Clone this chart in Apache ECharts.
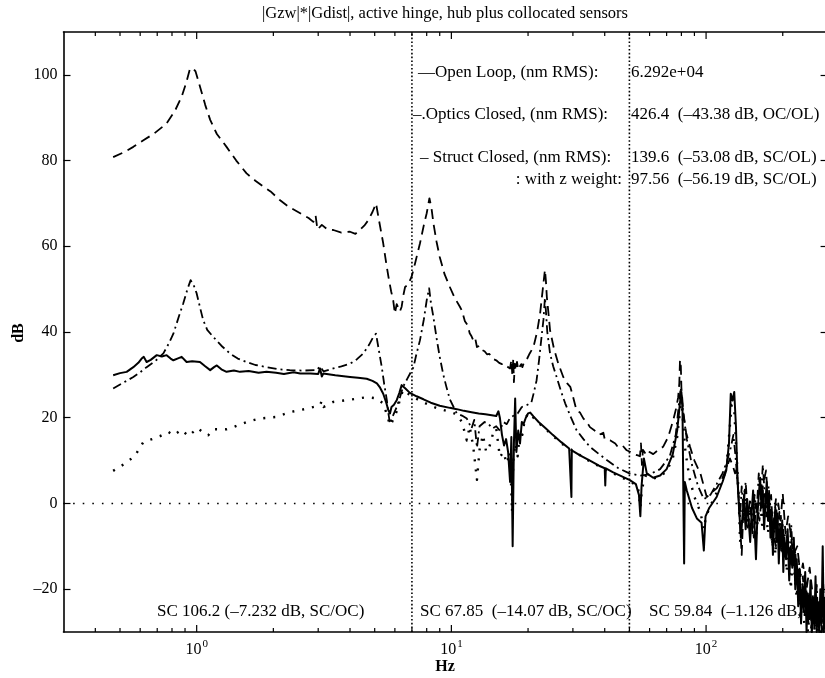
<!DOCTYPE html>
<html><head><meta charset="utf-8">
<script src="https://cdn.jsdelivr.net/npm/echarts@6/dist/echarts.min.js"></script>
<style>html,body{margin:0;padding:0;background:#fff}#c{width:825px;height:678px}</style>
</head><body><div id="c"></div>
<script>
// ---- data (Hz, dB) ----
const openLoop = [[0.47,80.8],[0.52,82.0],[0.564,83.2],[0.62,84.8],[0.68,86.3],[0.76,88.6],[0.82,91.5],[0.873,94.9],[0.91,98.2],[0.94,101.3],[0.965,101.6],[0.99,100.8],[1.03,97.3],[1.08,93.0],[1.13,89.5],[1.2,86.2],[1.31,83.2],[1.43,80.0],[1.57,77.0],[1.7,75.3],[1.83,73.9],[1.95,72.8],[2.12,70.8],[2.3,69.2],[2.55,67.7],[2.75,66.6],[2.87,65.7],[2.93,67.2],[2.98,63.9],[3.1,65.0],[3.25,64.0],[3.44,63.8],[3.7,63.2],[4.0,63.4],[4.2,62.9],[4.37,63.8],[4.55,64.8],[4.72,66.1],[4.9,68.0],[5.06,70.0],[5.2,66.0],[5.4,60.7],[5.55,56.0],[5.66,52.9],[5.8,49.5],[5.91,47.4],[6.0,44.3],[6.1,46.5],[6.19,46.7],[6.28,44.8],[6.38,45.9],[6.48,48.6],[6.58,50.5],[6.75,51.0],[6.98,52.9],[7.2,56.0],[7.53,60.7],[7.8,65.0],[8.0,67.7],[8.2,71.2],[8.35,69.0],[8.5,65.4],[8.75,61.0],[9.0,57.5],[9.4,53.5],[9.86,50.5],[10.3,48.0],[10.8,45.9],[11.0,45.0],[11.3,42.5],[11.6,41.5],[11.8,39.7],[12.0,39.0],[12.2,38.0],[12.4,38.6],[12.6,36.5],[12.9,36.8],[13.2,35.8],[13.5,35.5],[13.8,34.8],[14.1,34.9],[14.4,34.0],[14.7,33.6],[15.0,33.4],[15.4,32.8],[15.8,32.5],[16.2,32.6],[16.5,32.0],[16.8,31.6],[17.0,31.5],[17.2,33.5],[17.35,30.0],[17.5,33.8],[17.6,28.3],[17.75,32.6],[17.9,31.0],[18.1,33.0],[18.3,31.2],[18.6,32.0],[18.8,32.5],[19.0,31.8],[19.3,33.0],[19.7,33.4],[20.3,35.0],[21.0,36.5],[21.7,40.0],[22.3,44.3],[22.8,49.5],[23.3,54.5],[23.5,52.0],[23.7,48.2],[24.0,45.0],[24.4,40.4],[25.3,36.0],[26.3,32.6],[27.5,29.5],[28.5,28.0],[29.3,27.2],[30.0,25.0],[31.0,21.7],[32.0,21.2],[33.0,19.8],[34.0,19.0],[35.0,17.8],[36.5,17.0],[38.0,16.0],[39.5,16.5],[40.0,15.0],[42.1,14.7],[44.0,14.0],[45.0,13.2],[47.0,13.5],[48.8,12.4],[50.5,12.0],[52.0,11.5],[54.0,11.2],[55.0,11.0],[55.5,14.0],[56.0,9.0],[56.5,12.5],[58.5,11.2],[60.0,12.0],[62.0,11.5],[65.0,12.5],[67.8,13.2],[71.0,15.5],[74.3,19.4],[76.5,22.5],[77.7,24.8],[78.5,28.0],[79.0,33.5],[79.6,32.0],[80.0,27.0],[80.5,25.0],[81.5,21.0],[83.5,16.5],[86.5,13.2],[90.0,10.0],[95.1,6.9],[100.6,1.5],[105.0,2.5],[110.0,3.5],[115.0,5.5],[120.0,8.0],[124.0,10.5],[127.0,9.0],[130.0,7.0],[132.0,8.0],[134.0,2.0],[136.0,-5.0],[138.0,-12.0],[140.0,-2.0],[145.0,-6.3],[150.0,-1.0],[154.0,-8.0],[157.0,0.0],[162.0,-4.0],[167.0,4.0],[172.0,7.7],[176.0,-2.0],[180.0,2.0],[183.0,-6.3],[188.0,-10.0],[192.0,0.0],[196.0,-4.0],[200.0,2.3],[205.0,-7.0],[210.0,-3.0],[214.0,-6.3],[220.0,-12.0],[228.0,-10.0],[235.0,-17.0],[240.0,-14.0],[248.0,-20.0],[255.0,-15.0],[263.0,-22.0],[270.0,-26.0],[280.0,-28.0],[290.0,-30.0]];

const opticsClosed = [[0.47,26.8],[0.52,28.3],[0.564,29.5],[0.6,30.6],[0.636,31.8],[0.69,33.3],[0.74,35.0],[0.78,37.5],[0.81,39.6],[0.85,43.5],[0.886,46.7],[0.92,50.0],[0.947,52.1],[0.975,50.8],[1.0,49.0],[1.03,45.8],[1.06,42.8],[1.1,40.5],[1.16,38.9],[1.25,36.8],[1.35,35.0],[1.45,33.8],[1.57,33.0],[1.7,32.3],[1.88,31.8],[2.1,31.3],[2.32,31.1],[2.6,31.0],[2.96,31.1],[3.05,32.0],[3.15,30.8],[3.44,31.5],[3.7,32.0],[4.0,32.6],[4.25,33.6],[4.51,35.0],[4.75,37.0],[4.94,38.9],[5.06,39.6],[5.2,35.5],[5.33,31.8],[5.45,27.8],[5.58,24.1],[5.66,21.0],[5.74,18.6],[5.9,20.5],[6.1,22.5],[6.3,25.0],[6.46,27.2],[6.7,29.0],[7.1,31.8],[7.3,35.0],[7.53,38.1],[7.8,43.0],[8.0,47.4],[8.18,50.2],[8.3,47.0],[8.5,43.5],[8.75,38.5],[9.0,34.2],[9.3,30.0],[9.56,27.2],[9.86,24.3],[10.2,22.5],[10.5,21.0],[11.0,20.5],[11.5,19.8],[12.0,17.5],[12.3,19.5],[12.6,13.0],[12.9,18.0],[13.5,19.0],[14.0,18.5],[14.5,17.5],[15.0,18.0],[15.5,17.0],[16.0,19.0],[16.5,18.5],[17.0,20.0],[17.6,20.5],[18.2,21.0],[18.9,22.5],[19.6,22.8],[20.6,23.5],[21.1,26.0],[21.6,28.7],[22.1,33.5],[22.6,38.9],[23.0,43.0],[23.3,48.0],[23.5,45.0],[23.8,40.0],[24.4,35.0],[25.1,32.0],[25.9,29.5],[27.0,26.0],[28.0,23.3],[29.5,20.0],[31.0,17.1],[33.0,15.0],[35.0,13.2],[38.0,11.5],[41.0,10.0],[45.0,8.3],[50.0,7.0],[55.0,6.5],[60.0,6.8],[66.0,8.0],[72.0,11.0],[76.0,16.0],[78.5,24.0],[79.5,27.0],[81.0,22.0],[84.0,15.0],[88.0,9.0],[93.0,4.0],[98.0,1.0],[104.0,2.0],[110.0,4.5],[116.0,7.0],[121.0,10.0],[125.0,13.0],[128.0,16.0],[130.0,12.0],[133.0,5.0],[136,-3],[138,4],[140,-1],[143,5],[146,-3],[149,1],[152,-7],[155,2],[158,-2],[161,7],[164,1],[167,9],[170,2],[173,-3],[176,4],[179,-1],[182,-10],[185,-3],[188,1],[191,-7],[194,-2],[197,-11],[200,-5],[204,-13],[208,-7],[212,-12],[216,-5],[220,-15],[224,-11],[228,-19],[232,-14],[236,-23],[240,-17],[244,-26],[248,-20],[252,-28],[256,-23],[260,-30],[264,-24],[268,-28],[272,-19],[276,-29],[280,-24],[284,-30],[288,-18],[292,-27],[296,-30],[300,-28]];

const structClosed = [[0.47,29.9],[0.5,30.4],[0.531,30.7],[0.564,31.8],[0.59,32.8],[0.608,33.8],[0.62,34.2],[0.636,33.0],[0.66,33.5],[0.697,34.6],[0.73,34.3],[0.762,34.6],[0.79,33.8],[0.81,33.4],[0.84,33.8],[0.873,34.2],[0.913,33.0],[0.96,33.2],[1.03,33.0],[1.08,32.0],[1.13,31.1],[1.17,31.8],[1.2,32.2],[1.25,31.3],[1.31,30.7],[1.4,31.0],[1.48,30.7],[1.6,30.9],[1.75,30.5],[1.88,30.7],[2.05,30.5],[2.2,30.2],[2.4,30.6],[2.55,30.3],[2.8,30.3],[3.0,30.2],[3.05,31.5],[3.1,29.6],[3.14,30.3],[3.5,29.9],[4.0,29.5],[4.3,29.3],[4.65,29.1],[4.9,28.6],[5.1,28.0],[5.25,27.0],[5.4,25.6],[5.55,23.5],[5.66,21.7],[5.74,21.0],[5.82,22.5],[5.95,23.0],[6.1,24.1],[6.25,25.8],[6.38,27.6],[6.6,26.8],[6.87,25.8],[7.3,25.0],[7.77,24.3],[8.3,23.5],[9.0,22.8],[9.86,22.3],[10.5,22.0],[11.2,21.6],[12.0,21.3],[12.8,21.0],[13.6,20.8],[14.4,20.6],[15.0,20.4],[15.3,21.5],[15.5,20.0],[15.8,16.0],[16.1,13.5],[16.4,15.0],[16.7,12.0],[17.0,5.0],[17.2,15.5],[17.4,-10.0],[17.6,14.0],[17.8,24.5],[18.0,12.0],[18.3,17.0],[18.6,14.0],[18.9,19.0],[19.2,18.5],[19.6,20.0],[20.0,21.0],[20.4,21.2],[21.0,20.3],[22.0,19.0],[23.5,17.5],[25.0,16.0],[27.0,14.3],[29.0,12.8],[29.5,12.5],[29.6,1.5],[29.7,12.4],[32.0,11.2],[35.0,10.0],[38.0,8.8],[40.0,8.2],[40.2,4.2],[40.4,8.2],[43.0,7.3],[46.0,6.5],[50.0,5.5],[53.0,4.5],[54.5,2.0],[55.2,-3.0],[55.8,4.0],[57.0,10.5],[58.5,7.0],[62.0,6.0],[66.0,6.5],[70.0,8.0],[74.0,11.5],[77.0,17.0],[79.0,23.5],[80.0,26.0],[80.8,22.0],[81.5,0],[82.0,-14.0],[82.5,5.0],[84.0,3.0],[88.0,-1.0],[92.0,-3.5],[96.0,-4.5],[98.0,-11.0],[99.5,-3.0],[103,-1.0],[110,1.5],[116,5],[120,7.7],[123,14],[125,25.6],[127,24],[129,26],[131,18],[133,5],[135,-2],[137,-8],[139,-3],[141,2],[143,-6],[145,1],[147,-4],[149,-9],[151,-2],[153,3],[155,-5],[157,-13],[159,-3],[161,2],[163,6],[165,-1],[167,3],[169,-6],[171,0],[173,5],[175,-4],[177,1],[179,-8],[181,-2],[183,-12],[185,-5],[187,-1],[189,-9],[191,-3],[193,-14],[195,-6],[197,-10],[199,-4],[201,-16],[203,-8],[206,-13],[209,-6],[212,-18],[215,-10],[218,-15],[221,-8],[224,-20],[227,-13],[230,-24],[233,-16],[236,-28],[239,-19],[242,-25],[245,-16],[248,-30],[251,-21],[254,-27],[257,-18],[260,-30],[263,-22],[266,-29],[269,-17],[272,-30],[275,-23],[278,-30],[281,-20],[284,-28],[287,-10],[290,-30],[293,-22],[296,-30],[300,-26]];

const zWeight = [[0.47,7.6],[0.523,9.3],[0.572,11.1],[0.617,14.3],[0.675,15.1],[0.718,15.7],[0.774,16.7],[0.81,15.9],[0.873,17.2],[0.927,15.7],[1.01,17.6],[1.06,16.5],[1.11,15.9],[1.16,17.3],[1.31,17.3],[1.39,17.8],[1.57,19.0],[1.77,19.8],[2.06,20.2],[2.32,21.3],[2.7,22.1],[3.05,22.9],[3.1,24.0],[3.15,22.5],[3.44,23.7],[4.0,24.2],[4.65,24.8],[5.1,24.5],[5.4,23.3],[5.6,20.5],[5.74,18.2],[5.85,19.0],[6.1,21.5],[6.3,24.5],[6.46,26.5],[6.8,25.5],[7.5,24.0],[8.3,22.8],[9.0,22.0],[9.86,21.4],[10.5,20.8],[11.0,19.0],[11.5,14.7],[11.8,18.0],[12.2,13.0],[12.6,5.5],[12.9,12.5],[13.3,16.0],[13.7,12.0],[14.1,13.2],[14.6,16.5],[15.0,17.5],[15.5,10.8],[16.0,12.0],[16.5,9.3],[17.0,12.0],[17.3,-2.0],[17.5,10.0],[17.8,14.0],[18.2,11.0],[18.6,17.0],[19.0,16.0],[19.4,19.5],[20.0,21.0],[20.4,21.0],[21,20.0],[22,18.8],[23.5,17.3],[25,15.8],[27,14.0],[30,12.3],[35,9.8],[40,8.0],[45,6.5],[50,5.2],[54,4.0],[55.2,-1.0],[56,3.5],[58,6.5],[62,5.8],[66,6.3],[70,7.5],[74,10.5],[77,15.5],[79,21.5],[80,24.5],[81,20],[83,12],[86,6],[90,1.5],[95,-2],[98,-6],[100,-3],[105,0],[110,2.5],[116,5.5],[120,8],[124,18],[126,23],[129,22],[131,14],[134,3],[136,-9],[139,-2],[142,3],[145,-4],[148,-1],[151,-6],[154,0],[157,-8],[160,-3],[163,1],[166,-5],[169,3],[172,-2],[175,-7],[178,-1],[181,-9],[184,-4],[187,-12],[190,-6],[193,-9],[196,-3],[199,-12],[203,-7],[207,-16],[211,-10],[215,-20],[219,-13],[223,-17],[227,-22],[231,-15],[235,-26],[239,-20],[243,-28],[247,-22],[251,-30],[255,-25],[259,-29],[263,-21],[267,-30],[271,-26],[275,-30],[279,-24],[283,-30],[287,-27],[291,-30],[295,-25],[300,-30]];

// axes / reference lines
const X_MIN = 0.3, X_MAX = 300, Y_MIN = -30, Y_MAX = 110;
const yTicks = [-20, 0, 20, 40, 60, 80, 100];
const xMajorTicks = [1, 10, 100];
const xMinorTicks = [0.4,0.5,0.6,0.7,0.8,0.9,2,3,4,5,6,7,8,9,20,30,40,50,60,70,80,90,200];
const markerFreqs = [7, 50];
const zeroLevel = 0;

const titleText = '|Gzw|*|Gdist|, active hinge, hub plus collocated sensors';
const legendLeft = ['—Open Loop, (nm RMS):', '–.Optics Closed, (nm RMS):', '– Struct Closed, (nm RMS):', ': with z weight:'];
const legendRight = ['6.292e+04', '426.4  (–43.38 dB, OC/OL)', '139.6  (–53.08 dB, SC/OL)', '97.56  (–56.19 dB, SC/OL)'];
const bandTexts = ['SC 106.2 (–7.232 dB, SC/OC)', 'SC 67.85  (–14.07 dB, SC/OC)', 'SC 59.84  (–1.126 dB, SC/OC)'];

const FONT = 'Liberation Serif';
const chart = echarts.init(document.getElementById('c'), null, {renderer: 'canvas'});

const tickData = xMajorTicks.map(v => [v, 7]).concat(xMinorTicks.map(v => [v, 4]));

function txt(x, y, text, extra) {
  return Object.assign({type: 'text', x: x, y: y, z: 0,
    style: Object.assign({text: text, fill: '#000', font: '17px "' + FONT + '"', verticalAlign: 'middle', align: 'left'}, extra || {})});
}

const graphics = [
  txt(445, 14, titleText, {align: 'center', font: '16.5px "' + FONT + '"'}),
  txt(445, 667, 'Hz', {align: 'center', font: 'bold 16px "' + FONT + '"'}),
  Object.assign(txt(19, 333, 'dB', {align: 'center', font: 'bold 16px "' + FONT + '"'}), {rotation: Math.PI / 2}),
  txt(418, 73, legendLeft[0]), txt(631, 73, legendRight[0]),
  txt(413, 115, legendLeft[1]), txt(631, 115, legendRight[1]),
  txt(420, 158, legendLeft[2]), txt(631, 158, legendRight[2]),
  txt(622, 180, legendLeft[3], {align: 'right'}), txt(631, 180, legendRight[3]),
  txt(157, 612, bandTexts[0]), txt(420, 612, bandTexts[1]), txt(649, 612, bandTexts[2])
];

function lineSeries(name, data, type, width) {
  return {name: name, type: 'line', data: data, showSymbol: false, symbol: 'none', smooth: false,
    silent: true, z: 5, clip: true,
    lineStyle: {color: '#000', width: width, type: type, cap: 'butt', join: 'round'}};
}

const axisLineStyle = {show: true, onZero: false, lineStyle: {color: '#000', width: 1.6}};

const option = {
  animation: false,
  backgroundColor: '#fff',
  textStyle: {fontFamily: FONT, color: '#000'},
  grid: {left: 63.5, right: -2.6, top: 32, bottom: 46, containLabel: false, outerBoundsMode: 'none'},
  xAxis: [{
    type: 'log', logBase: 10, min: X_MIN, max: X_MAX, position: 'bottom',
    axisLine: axisLineStyle,
    axisTick: {show: false}, minorTick: {show: false}, splitLine: {show: false},
    axisLabel: {show: true, margin: 7, showMinLabel: false, showMaxLabel: false,
      formatter: function (v) {
        const e = Math.log10(v), r = Math.round(e);
        if (Math.abs(e - r) > 1e-6 || xMajorTicks.indexOf(Math.pow(10, r)) < 0) return '';
        return '{b|10}{s|' + r + '}';
      },
      rich: {
        b: {fontSize: 16, fontFamily: FONT, color: '#000', verticalAlign: 'bottom'},
        s: {fontSize: 11, fontFamily: FONT, color: '#000', verticalAlign: 'bottom', padding: [0, 0, 8, 1]}
      }}
  }, {
    type: 'log', logBase: 10, min: X_MIN, max: X_MAX, position: 'top',
    axisLine: axisLineStyle,
    axisTick: {show: false}, axisLabel: {show: false}, splitLine: {show: false}
  }],
  yAxis: [{
    type: 'value', min: Y_MIN, max: Y_MAX, position: 'left',
    axisLine: axisLineStyle,
    axisTick: {show: true, inside: true, length: 7, lineStyle: {color: '#000', width: 1.2}, customValues: yTicks},
    axisLabel: {show: true, margin: 6, fontSize: 16, fontFamily: FONT, color: '#000', customValues: yTicks,
      formatter: v => String(v).replace('-', '–')},
    splitLine: {show: false}
  }, {
    type: 'value', min: Y_MIN, max: Y_MAX, position: 'right',
    axisLine: axisLineStyle,
    axisTick: {show: true, inside: true, length: 7, lineStyle: {color: '#000', width: 1.2}, customValues: yTicks},
    axisLabel: {show: false}, splitLine: {show: false}
  }],
  graphic: graphics,
  series: [
    {type: 'custom', coordinateSystem: 'cartesian2d', clip: false, silent: true, z: 3,
      data: tickData,
      renderItem: function (params, api) {
        const f = api.value(0), len = api.value(1);
        const b = api.coord([f, Y_MIN]), t = api.coord([f, Y_MAX]);
        return {type: 'group', children: [
          {type: 'line', shape: {x1: b[0], y1: b[1], x2: b[0], y2: b[1] - len}, style: {stroke: '#000', lineWidth: 1.2}},
          {type: 'line', shape: {x1: t[0], y1: t[1], x2: t[0], y2: t[1] + len}, style: {stroke: '#000', lineWidth: 1.2}}
        ]};
      }},
    {type: 'line', data: [[X_MIN, zeroLevel], [X_MAX, zeroLevel]], showSymbol: false, silent: true, z: 2,
      lineStyle: {color: '#000', width: 1.6, type: [1.6, 8]}},
    ...markerFreqs.map(f => ({type: 'line', data: [[f, Y_MIN], [f, Y_MAX]], showSymbol: false, silent: true, z: 2,
      lineStyle: {color: '#000', width: 1.6, type: [1.6, 2.2]}})),
    lineSeries('Open Loop', openLoop, [10, 6], 1.8),
    lineSeries('Optics Closed', opticsClosed, [9, 4, 2, 4], 1.8),
    lineSeries('Struct Closed', structClosed, 'solid', 2),
    lineSeries('with z weight', zWeight, [2, 8], 2.4)
  ]
};
chart.setOption(option);
</script>
</body></html>
